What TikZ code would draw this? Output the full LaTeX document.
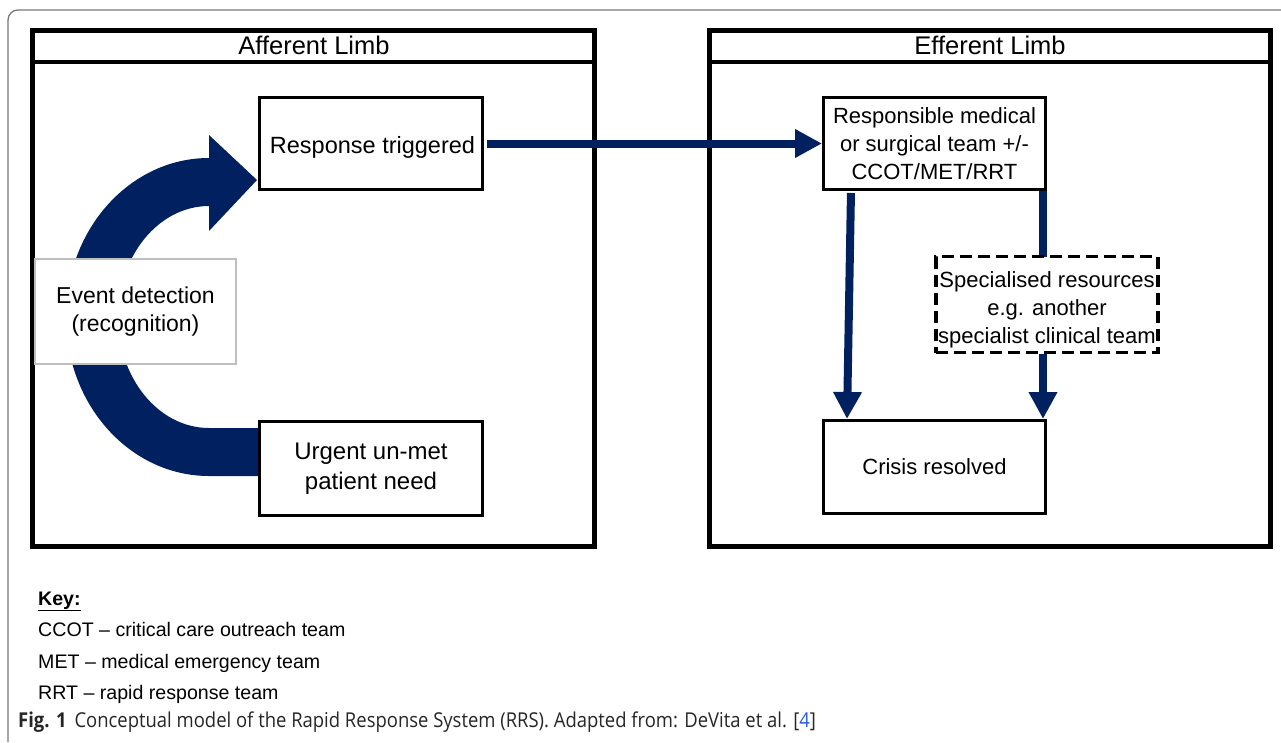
\documentclass[tikz,border=0pt]{standalone}
\usepackage{fontspec}
\setmainfont{Liberation Sans}
\newfontfamily\capfont[FakeStretch=0.9]{Open Sans}
\usetikzlibrary{arrows.meta}
\definecolor{navy}{RGB}{0,32,96}
\definecolor{framegray}{RGB}{120,120,120}
\definecolor{boxgray}{RGB}{190,190,190}
\definecolor{linkblue}{RGB}{40,90,210}
\begin{document}
\begin{tikzpicture}[x=1pt,y=-1pt,
  txt/.style={font=\fontsize{22}{28}\selectfont},
  box/.style={draw=black, line width=3pt, fill=white, align=center, inner sep=0pt, txt},
  limb/.style={draw=black, line width=5pt, inner sep=0pt},
  title/.style={font=\fontsize{25.5}{30}\selectfont},
  flow/.style={draw=navy, line width=8pt},
  flowarr/.style={flow, -{Triangle[length=27pt,width=27pt]}},
  keytxt/.style={anchor=base west, inner sep=0pt, font=\fontsize{19.6}{24}\selectfont}]
\useasboundingbox (0,0) rectangle (1281,742);
% outer frame
\draw[framegray, line width=1.3pt] (8,742) -- (8,20) arc[start angle=180, end angle=270, radius=10] -- (1281,10);
% limb boxes
\node[limb, minimum width=562, minimum height=516] (aff) at (313.5,288.5) {};
\node[limb, minimum width=561, minimum height=516] (eff) at (990,288.5) {};
\draw[line width=4pt] (32.5,62) -- (594.5,62);
\draw[line width=4pt] (709.5,62) -- (1270.5,62);
\node[title] (afft) at (314,45.5) {Afferent Limb};
\node[title] (efft) at (990,45.5) {Efferent Limb};
% curved band arrow
\fill[navy] (258,428) -- (209,428) arc[start angle=90, end angle=270, x radius=91, y radius=111]
  -- (209,231) -- (257,180) -- (209,135) -- (209,158)
  arc[start angle=270, end angle=90, x radius=143, y radius=159] -- (258,476) -- cycle;
% boxes
\node[box, minimum width=223, minimum height=92] (resp) at (371,143.5) {};
\node[txt, font=\fontsize{23.5}{28}\selectfont] (resptxt) at (372.5,147.5) {Response triggered};
\node[box, minimum width=223, minimum height=94, font=\fontsize{24}{30}\selectfont] (urgent) at (371,468.5) {Urgent un-met\\patient need};
\node[box, draw=boxgray, line width=2pt, minimum width=201, minimum height=105, font=\fontsize{23}{28}\selectfont] (event) at (135.5,311.5) {Event detection\\(recognition)};
\node[box, minimum width=222, minimum height=92] (team) at (934.5,143.5) {Responsible medical\\or surgical team +/-\\CCOT/MET/RRT};
\node[box, minimum width=222, minimum height=93] (crisis) at (934.5,467) {Crisis resolved};
% connectors
\draw[flowarr, shorten <=3pt] (resp.east) -- (team.west);
\draw[flowarr, shorten <=2pt] ([xshift=29pt]team.south west) -- ([xshift=25pt]crisis.north west);
\draw[flow] ([xshift=-4pt]team.south east) -- ([xshift=-4pt,yshift=-2pt]1047,255);
\node[box, dashed, dash pattern=on 12pt off 6pt, line width=3.5pt, minimum width=222, minimum height=96] (spec) at (1047,304.5) {};
\node[txt, align=center] (spectxt) at (1047,309.5) {Specialised resources\\e.g. another\\specialist clinical team};
\draw[flowarr] ([xshift=-4pt]spec.south) -- ([xshift=-4pt]crisis.north east);
% key
\node[keytxt] (key) at (38,605) {\textbf{\underline{Key:}}};
\node[keytxt] (k1) at (38,636) {CCOT – critical care outreach team};
\node[keytxt] (k2) at (38,668) {MET – medical emergency team};
\node[keytxt] (k3) at (38,699) {RRT – rapid response team};
% caption
\node[anchor=base west, inner sep=0pt, font=\capfont\fontsize{20.5}{24}\selectfont, text=black!85] (cap) at (18,727) {\textbf{Fig. 1}\hspace{8pt}Conceptual model of the Rapid Response System (RRS). Adapted from: DeVita et al. [\textcolor{linkblue}{4}]};
\end{tikzpicture}
\end{document}
